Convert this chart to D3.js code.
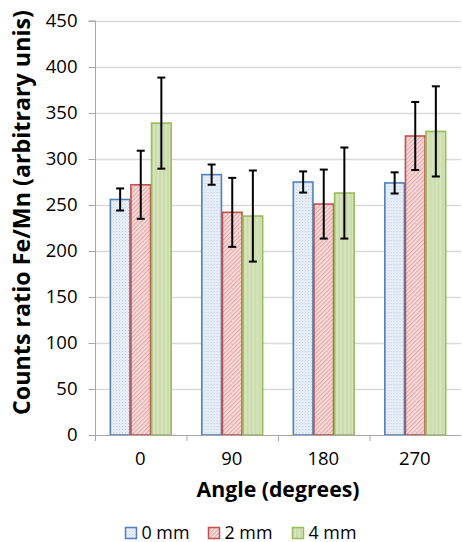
<!DOCTYPE html>
<html>
<head>
<meta charset="utf-8">
<script src="https://cdn.jsdelivr.net/npm/d3@7/dist/d3.min.js"></script>
<style>
  body { margin: 0; background: #fff; }
  svg { display: block; }
  text { font-family: "Open Sans", Lato, sans-serif; fill: #000; }
</style>
</head>
<body>
<svg id="chart" width="462" height="542"></svg>
<script>
const categories = ["0", "90", "180", "270"];
const seriesNames = ["0 mm", "2 mm", "4 mm"];
const values0mm = [256, 283, 275, 274];
const values2mm = [272, 242, 251, 325];
const values4mm = [339, 238, 263, 330];
const errors0mm = [12, 11, 11.5, 11.5];
const errors2mm = [37, 37.5, 37.5, 37];
const errors4mm = [49.5, 49.5, 49.5, 49];
const yTicks = [0, 50, 100, 150, 200, 250, 300, 350, 400, 450];

const seriesValues = [values0mm, values2mm, values4mm];
const seriesErrors = [errors0mm, errors2mm, errors4mm];
const strokeColors = ["#4f81bd", "#c0504d", "#9bbb59"];
const patternIds = ["patBlue", "patRed", "patGreen"];

const svg = d3.select("#chart");
const margin = { left: 95, right: 1, top: 21, bottom: 107 };
const W = 462, H = 542;
const x0 = margin.left, x1 = W - margin.right;
const yBottom = H - margin.bottom, yTop = margin.top;

// fit a text element's font-size so it spans a target width
function fitWidth(sel, target) {
  const node = sel.node();
  const fs = parseFloat(sel.style("font-size"));
  const w = node.getComputedTextLength();
  if (w > 0) sel.style("font-size", (fs * target / w).toFixed(2) + "px");
}

// patterns
const defs = svg.append("defs");
const pb = defs.append("pattern").attr("id", "patBlue").attr("patternUnits", "userSpaceOnUse").attr("width", 3).attr("height", 3);
pb.append("rect").attr("width", 3).attr("height", 3).attr("fill", "#eef3fa");
pb.append("rect").attr("x", 0).attr("y", 0).attr("width", 1.2).attr("height", 1.2).attr("fill", "#bccde8");
pb.append("rect").attr("x", 1.5).attr("y", 1.5).attr("width", 1.2).attr("height", 1.2).attr("fill", "#d3def0");

const pr = defs.append("pattern").attr("id", "patRed").attr("patternUnits", "userSpaceOnUse").attr("width", 3).attr("height", 3).attr("patternTransform", "rotate(45)");
pr.append("rect").attr("width", 3).attr("height", 3).attr("fill", "#f9e1e1");
pr.append("rect").attr("width", 1.3).attr("height", 3).attr("fill", "#e7a9a8");

const pg = defs.append("pattern").attr("id", "patGreen").attr("patternUnits", "userSpaceOnUse").attr("width", 4).attr("height", 4);
pg.append("rect").attr("width", 4).attr("height", 4).attr("fill", "#d6e4bd");
pg.append("rect").attr("width", 2).attr("height", 4).attr("fill", "#cbdcac");

const y = d3.scaleLinear().domain([0, 450]).range([yBottom, yTop]);
const x = d3.scaleBand().domain(categories).range([x0, x1]).paddingInner(0).paddingOuter(0);
const xs = d3.scaleBand().domain(d3.range(3)).range([0, x.bandwidth()]).paddingInner(0).paddingOuter(0.72);

// gridlines
svg.append("g").selectAll("line").data(yTicks.slice(1)).join("line")
  .attr("x1", x0).attr("x2", x1)
  .attr("y1", d => Math.round(y(d)) + 0.5).attr("y2", d => Math.round(y(d)) + 0.5)
  .attr("stroke", "#d9d9d9").attr("stroke-width", 1.5);

// y axis
const yAxis = d3.axisLeft(y).tickValues(yTicks).tickSize(7).tickPadding(11);
const gy = svg.append("g").attr("transform", `translate(${x0 + 0.5},0)`).call(yAxis);
gy.select(".domain").attr("stroke", "#a6a6a6").attr("d", `M-7,${yTop}H0V${yBottom}`);
gy.selectAll(".tick line").attr("stroke", "#a6a6a6");
gy.selectAll(".tick text").style("font-size", "18.5px").attr("fill", "#000")
  .style("font-family", "'Open Sans', Lato, sans-serif");

// bars
const groups = svg.append("g").selectAll("g").data(categories).join("g")
  .attr("transform", d => `translate(${x(d)},0)`);
seriesValues.forEach((vals, si) => {
  groups.append("rect")
    .attr("x", (d, i) => xs(si) + 0.5)
    .attr("width", xs.bandwidth() - 1)
    .attr("y", (d, i) => y(vals[i]))
    .attr("height", (d, i) => yBottom - y(vals[i]))
    .attr("fill", `url(#${patternIds[si]})`)
    .attr("stroke", strokeColors[si]).attr("stroke-width", 1.6);
});

// x axis
const xAxisLine = svg.append("g");
xAxisLine.append("line").attr("x1", x0).attr("x2", x1).attr("y1", yBottom + 0.5).attr("y2", yBottom + 0.5)
  .attr("stroke", "#a6a6a6").attr("stroke-width", 1.2);
const bounds = [x0].concat(categories.slice(1).map(c => x(c)));
xAxisLine.selectAll(".xt").data(bounds).join("line")
  .attr("x1", d => d + 0.5).attr("x2", d => d + 0.5)
  .attr("y1", yBottom).attr("y2", yBottom + 6)
  .attr("stroke", "#a6a6a6");
svg.append("g").selectAll("text").data(categories).join("text")
  .attr("x", d => x(d) + x.bandwidth() / 2 - 0.5).attr("y", yBottom + 30)
  .attr("text-anchor", "middle").style("font-size", "18.5px").text(d => d);

// error bars
seriesValues.forEach((vals, si) => {
  const errs = seriesErrors[si];
  const g = svg.append("g");
  categories.forEach((c, i) => {
    const cx = x(c) + xs(si) + xs.bandwidth() / 2;
    const top = y(vals[i] + errs[i]), bot = y(vals[i] - errs[i]);
    g.append("line").attr("x1", cx).attr("x2", cx).attr("y1", top).attr("y2", bot).attr("stroke", "#000").attr("stroke-width", 2);
    g.append("line").attr("x1", cx - 4).attr("x2", cx + 4).attr("y1", top).attr("y2", top).attr("stroke", "#000").attr("stroke-width", 2);
    g.append("line").attr("x1", cx - 4).attr("x2", cx + 4).attr("y1", bot).attr("y2", bot).attr("stroke", "#000").attr("stroke-width", 2);
  });
});

// axis titles
const xt = svg.append("text").attr("x", 278).attr("y", 497).attr("text-anchor", "middle")
  .style("font-size", "19px").style("font-weight", "bold").text("Angle (degrees)");
fitWidth(xt, 163);
const yt = svg.append("text").attr("transform", `translate(30,212.5) rotate(-90)`)
  .attr("text-anchor", "middle").style("font-size", "19px").style("font-weight", "bold")
  .text("Counts ratio Fe/Mn (arbitrary unis)");
fitWidth(yt, 405);

// legend
const legendX = [125, 208, 292];
const lg = svg.append("g");
seriesNames.forEach((n, i) => {
  lg.append("rect").attr("x", legendX[i] + 0.5).attr("y", 527.5).attr("width", 11).attr("height", 11)
    .attr("fill", `url(#${patternIds[i]})`).attr("stroke", strokeColors[i]).attr("stroke-width", 1.5);
  const t = lg.append("text").attr("x", legendX[i] + 16.5).attr("y", 538.5).style("font-size", "17px").text(n);
  fitWidth(t, 48);
});
</script>
</body>
</html>
